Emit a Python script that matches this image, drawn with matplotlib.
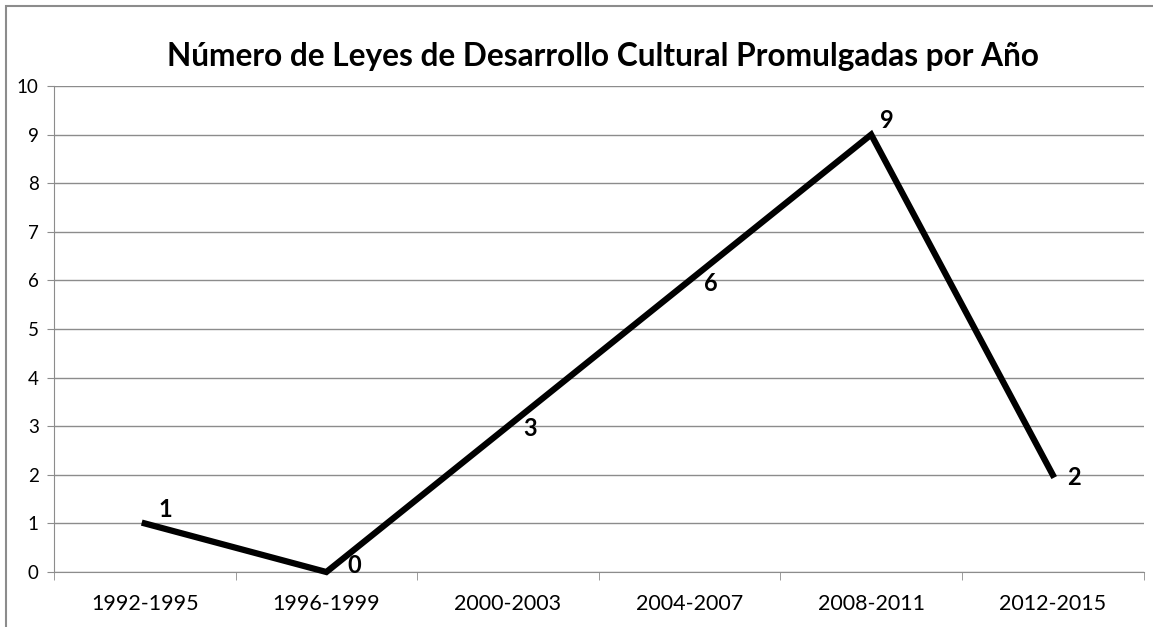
import matplotlib
matplotlib.use('Agg')
import matplotlib.pyplot as plt
from matplotlib.patches import Rectangle

# data
periodos = ['1992-1995', '1996-1999', '2000-2003', '2004-2007', '2008-2011', '2012-2015']
leyes = [1, 0, 3, 6, 9, 2]
# label offsets (points) like Excel placement
offsets = [(15, 10), (20, 5), (16, -2), (15, -2), (11, 10), (15, -2)]

plt.rcParams['font.family'] = ['Lato', 'DejaVu Sans']

fig = plt.figure(figsize=(11.53, 6.27), dpi=100)
ax = fig.add_axes([0.0468, 0.0877, 0.945, 0.7751])

x = list(range(len(periodos)))
ax.plot(x, leyes, color='black', lw=4.5, solid_joinstyle='miter', zorder=3, clip_on=False)
for xi, v, off in zip(x, leyes, offsets):
    ax.annotate(str(v), (xi, v), xytext=off, textcoords='offset points',
                ha='center', va='center', fontsize=17, fontweight='bold', zorder=4)

ax.set_xlim(-0.5, len(periodos) - 0.5)
ax.set_ylim(0, 10)
ax.set_yticks(range(0, 11))
ax.set_xticks(x)
ax.set_xticklabels(periodos)
ax.set_xticks([i + 0.5 for i in range(-1, len(periodos))], minor=True)
ax.grid(axis='y', color='#8c8c8c', lw=1)
ax.set_axisbelow(True)
for s in ['top', 'right']:
    ax.spines[s].set_visible(False)
for s in ['left', 'bottom']:
    ax.spines[s].set_color('#8c8c8c')
ax.tick_params(axis='y', length=5, color='#8c8c8c', labelsize=13.5, pad=6)
ax.tick_params(axis='x', which='major', length=0, labelsize=15.5, pad=16)
ax.tick_params(axis='x', which='minor', length=6, color='#8c8c8c')

fig.text(0.523, 0.91, 'Número de Leyes de Desarrollo Cultural Promulgadas por Año',
         ha='center', va='center', fontsize=22.8, fontweight='bold')

fig.patches.append(Rectangle((6 / 1153, -0.1), 1.2, 1.1 - 6 / 627, transform=fig.transFigure,
                             fill=False, edgecolor='#8c8c8c', lw=1.5))

fig.savefig('out.png', dpi=100)
